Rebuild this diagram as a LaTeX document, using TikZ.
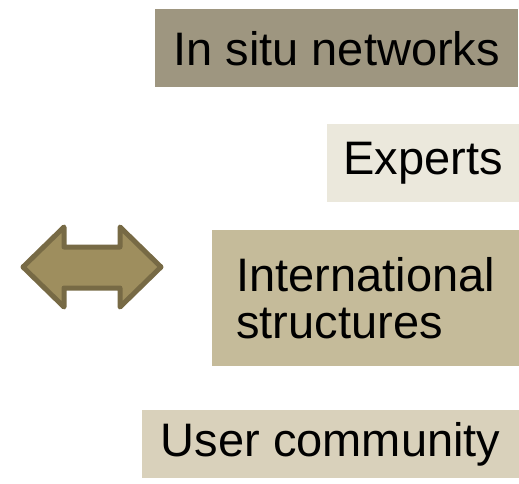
\documentclass[tikz,border=0pt]{standalone}
\usepackage{fontspec}
\setmainfont{Liberation Sans}
\definecolor{boxdark}{HTML}{9E9680}
\definecolor{boxpale}{HTML}{EBE8DC}
\definecolor{boxtan}{HTML}{C5BB9A}
\definecolor{boxsand}{HTML}{D9D1BB}
\definecolor{arrowfill}{HTML}{9E8E5E}
\definecolor{arrowline}{HTML}{776A45}
\begin{document}
\begin{tikzpicture}[x=1pt,y=-1pt,
  label box/.style={rectangle, anchor=north west, inner sep=0pt,
    font=\fontsize{47}{47}\selectfont, align=left, text=black},
  swap arrow/.style={fill=arrowfill, draw=arrowline, line width=5pt, line join=round}]
\useasboundingbox (0,0) rectangle (519,483);
% stacked label boxes on the right
\node[label box, fill=boxdark, minimum width=363pt, minimum height=78pt] (insitu) at (155,9) {In situ networks};
\node[label box, fill=boxpale, minimum width=192pt, minimum height=78pt] (experts) at (327,124) {Experts};
\node[label box, fill=boxtan, minimum width=307pt, minimum height=136pt] (intl) at (212,230) {International\\structures};
\node[label box, fill=boxsand, minimum width=377pt, minimum height=68pt] (users) at (142,410) {User community};
% two-headed arrow on the left
\draw[swap arrow] (23,267) -- (64,227) -- (64,247) -- (120,247) -- (120,227)
  -- (161,267) -- (120,307) -- (120,288) -- (64,288) -- (64,307) -- cycle;
\end{tikzpicture}
\end{document}
